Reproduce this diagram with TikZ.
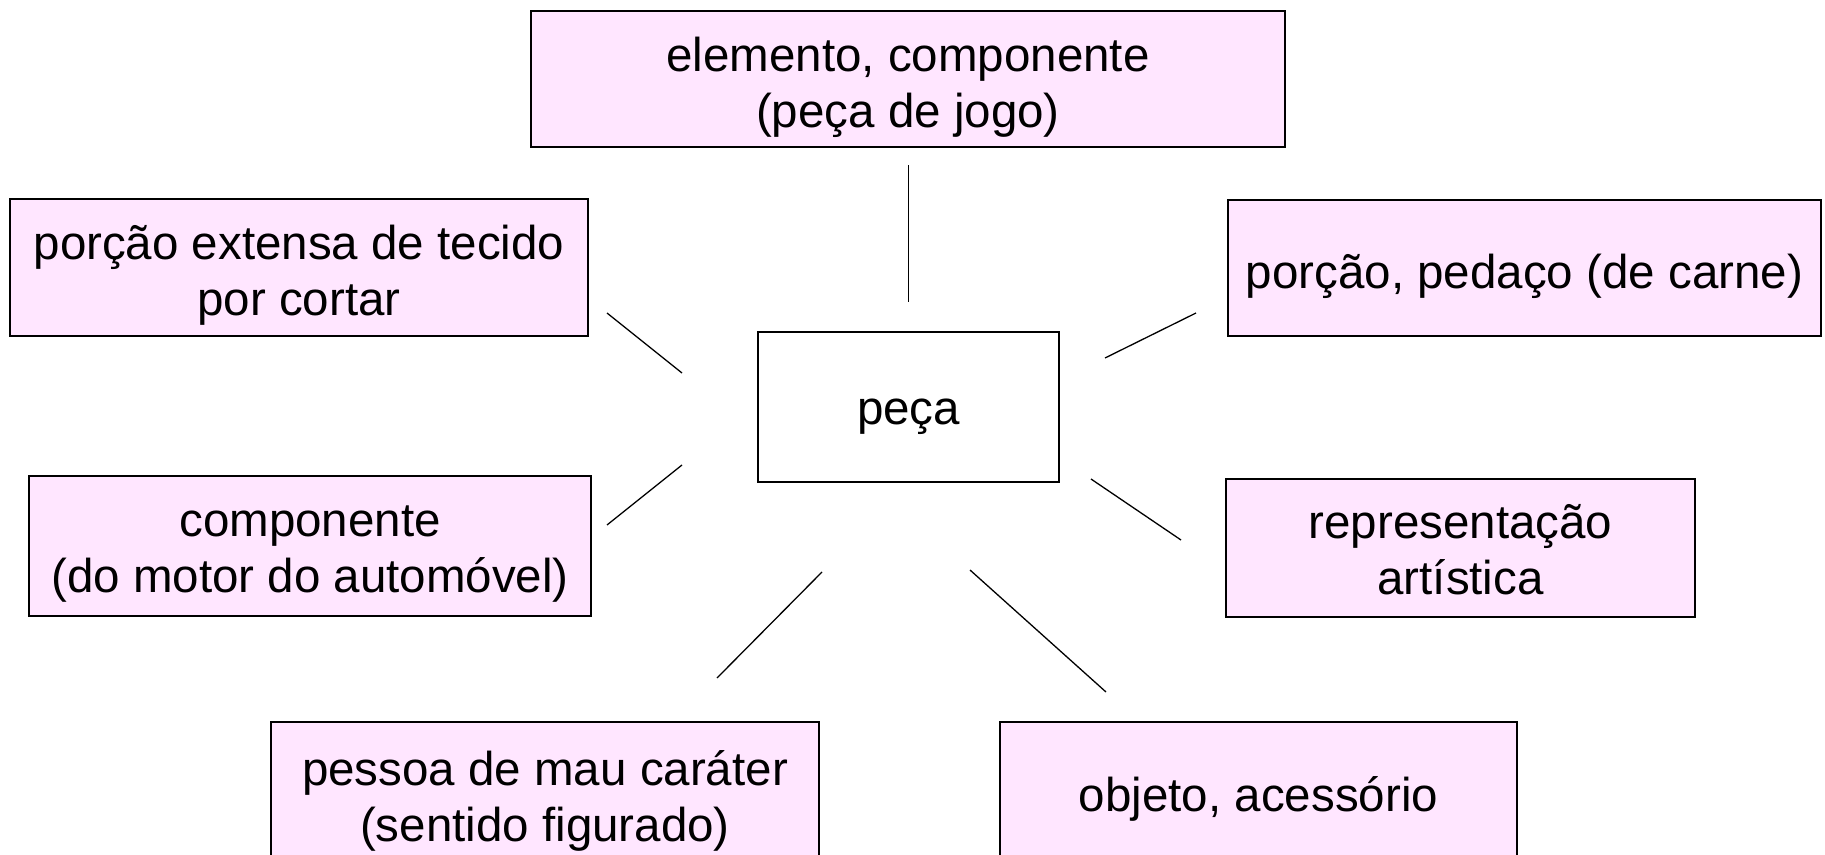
\documentclass[tikz,border=0pt]{standalone}
\usepackage{fontspec}
\setmainfont{Liberation Sans}
\definecolor{boxpink}{RGB}{255,230,255}
\tikzset{
  sensebox/.style={draw=black, line width=1.6pt, fill=boxpink, inner sep=0pt},
  centerbox/.style={draw=black, line width=1.6pt, fill=white, inner sep=0pt},
  boxtext/.style={inner sep=0pt, align=center, yshift=-8pt,
    font=\fontsize{47.5}{56}\selectfont},
  link/.style={draw=black, line width=1.3pt}
}
\begin{document}
\begin{tikzpicture}[x=1pt,y=-1pt]
\useasboundingbox (0,0) rectangle (1825,854);
\clip (0,0) rectangle (1825,854);
\fill[white] (0,0) rectangle (1825,854);
\node[sensebox, minimum width=754pt, minimum height=136pt] (top) at (908,79) {};
\node[boxtext] (top-t) at (top.center) {elemento, componente\\(peça de jogo)};
\node[sensebox, minimum width=578pt, minimum height=137pt] (l1) at (299,267.5) {};
\node[boxtext] (l1-t) at (l1.center) {porção extensa de tecido\\por cortar};
\node[sensebox, minimum width=593pt, minimum height=136pt] (r1) at (1524.5,268) {};
\node[boxtext] (r1-t) at (r1.center) {porção, pedaço (de carne)};
\node[centerbox, minimum width=301pt, minimum height=150pt] (c) at (908.5,407) {};
\node[boxtext, yshift=-2pt] (c-t) at (c.center) {peça};
\node[sensebox, minimum width=562pt, minimum height=140pt] (l2) at (310,546) {};
\node[boxtext] (l2-t) at (l2.center) {componente\\(do motor do automóvel)};
\node[sensebox, minimum width=469pt, minimum height=138pt] (r2) at (1460.5,548) {};
\node[boxtext, yshift=6pt] (r2-t) at (r2.center) {representação\\artística};
\node[sensebox, minimum width=548pt, minimum height=146pt] (bl) at (545,795) {};
\node[boxtext, yshift=2pt] (bl-t) at (bl.center) {pessoa de mau caráter\\(sentido figurado)};
\node[sensebox, minimum width=517pt, minimum height=146pt] (br) at (1258.5,795) {};
\node[boxtext, yshift=4pt] (br-t) at (br.center) {objeto, acessório};
\coordinate (t1) at (908.5,165); \coordinate (t2) at (908.5,302);
\coordinate (a1) at (607,313); \coordinate (a2) at (682,373);
\coordinate (b1) at (1105,358); \coordinate (b2) at (1196,313);
\coordinate (d1) at (607,525); \coordinate (d2) at (682,465);
\coordinate (e1) at (1091,479); \coordinate (e2) at (1181,540);
\coordinate (f1) at (822,572); \coordinate (f2) at (717,678);
\coordinate (g1) at (970,570); \coordinate (g2) at (1106,692);
\draw[link] (t1) -- (t2);
\draw[link] (a1) -- (a2);
\draw[link] (b1) -- (b2);
\draw[link] (d1) -- (d2);
\draw[link] (e1) -- (e2);
\draw[link] (f1) -- (f2);
\draw[link] (g1) -- (g2);
\end{tikzpicture}
\end{document}
